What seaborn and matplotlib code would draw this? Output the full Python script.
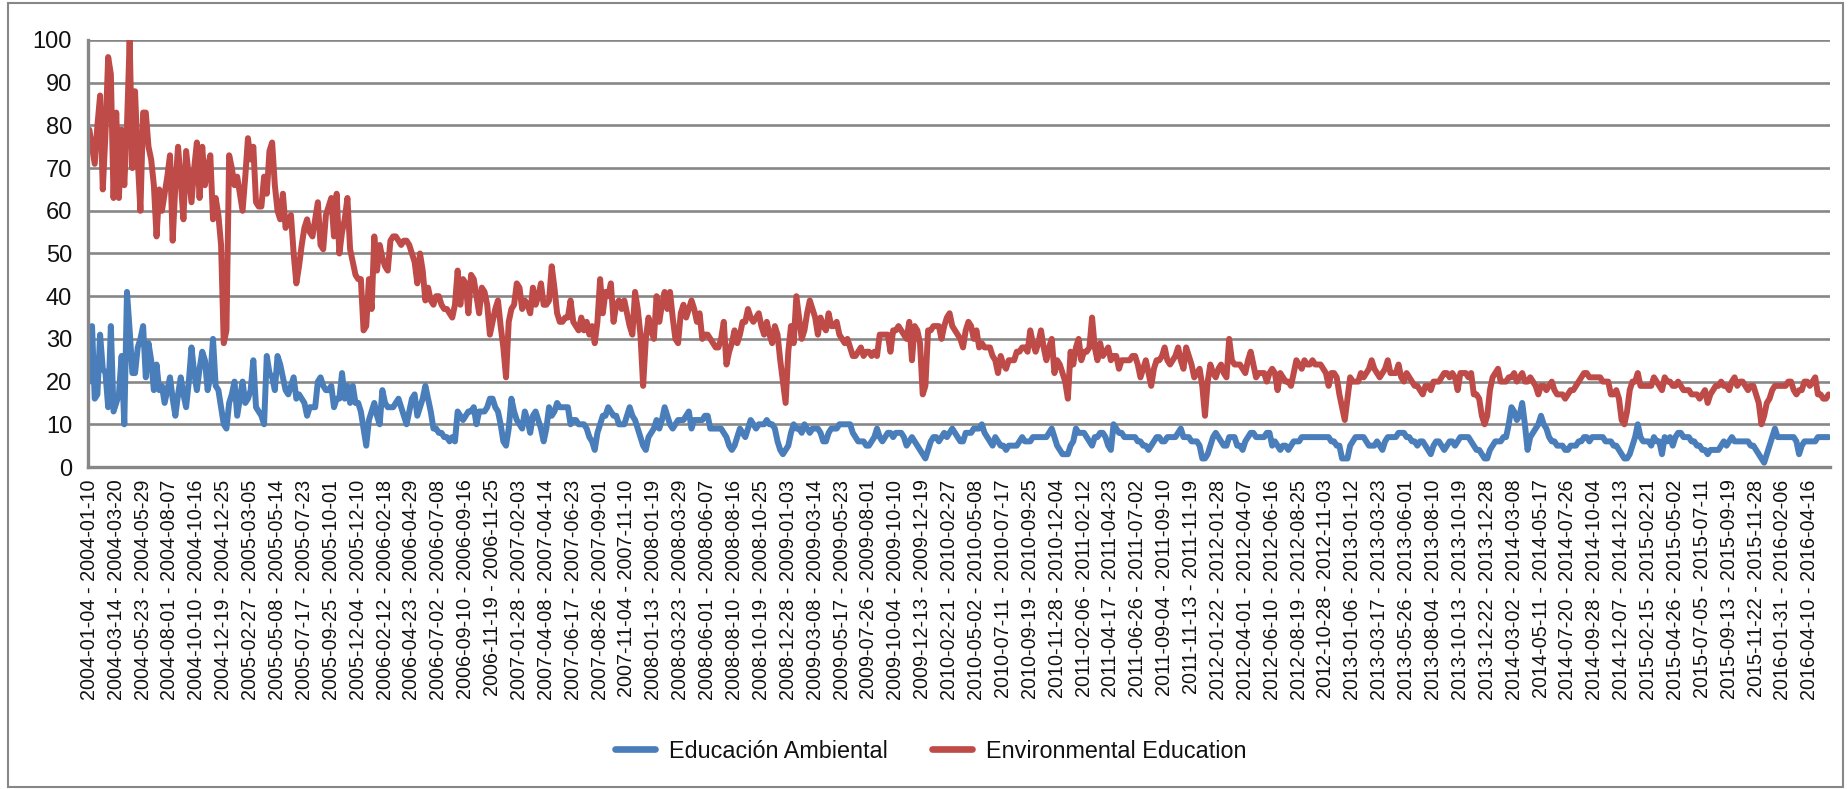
import numpy as np
import pandas as pd
import matplotlib
matplotlib.use("Agg")
import matplotlib.pyplot as plt
from matplotlib import font_manager
from matplotlib.lines import Line2D
from matplotlib.patches import Rectangle
import seaborn as sns

# ---------------- data (weekly Google-Trends style index) ----------------
start_week = "2004-01-04"
series_names = ["Educación Ambiental", "Environmental Education"]

educacion_ambiental = [
    20, 33, 16, 17, 31, 23, 22, 14, 33, 13,
    15, 17, 26, 10, 41, 32, 22, 22, 28, 30,
    33, 21, 29, 25, 18, 24, 18, 19, 15, 18,
    21, 16, 12, 17, 21, 17, 14, 20, 28, 22,
    18, 23, 27, 25, 18, 21, 30, 19, 18, 14,
    10, 9, 15, 17, 20, 12, 16, 20, 15, 16,
    18, 25, 14, 13, 12, 10, 26, 22, 21, 18,
    26, 24, 21, 18, 17, 19, 21, 16, 17, 16,
    15, 12, 14, 14, 14, 20, 21, 19, 18, 18,
    19, 14, 16, 16, 22, 16, 19, 15, 19, 15,
    15, 13, 9, 5, 11, 13, 15, 12, 10, 18,
    15, 14, 14, 14, 15, 16, 14, 12, 10, 13,
    16, 17, 12, 14, 16, 19, 16, 13, 9, 9,
    8, 8, 7, 7, 6, 7, 6, 13, 12, 11,
    12, 13, 13, 14, 10, 13, 13, 13, 14, 16,
    16, 14, 13, 10, 6, 5, 9, 16, 13, 11,
    10, 9, 13, 11, 8, 12, 13, 11, 9, 6,
    9, 14, 12, 13, 15, 14, 14, 14, 14, 10,
    11, 11, 10, 10, 10, 9, 7, 6, 4, 8,
    10, 12, 12, 14, 13, 12, 12, 10, 10, 10,
    12, 14, 12, 11, 9, 7, 5, 4, 7, 8,
    9, 11, 9, 11, 14, 12, 10, 9, 10, 11,
    11, 11, 12, 13, 9, 11, 11, 11, 11, 12,
    12, 9, 9, 9, 9, 9, 8, 7, 5, 4,
    5, 7, 9, 8, 7, 9, 11, 10, 9, 10,
    10, 10, 11, 10, 10, 9, 6, 4, 3, 4,
    5, 8, 10, 9, 9, 8, 10, 9, 8, 9,
    9, 9, 8, 6, 6, 8, 9, 9, 9, 10,
    10, 10, 10, 10, 8, 7, 6, 6, 6, 5,
    5, 6, 7, 9, 7, 6, 7, 8, 8, 7,
    8, 8, 8, 7, 5, 6, 7, 6, 5, 4,
    3, 2, 4, 6, 7, 7, 6, 7, 8, 7,
    8, 9, 8, 7, 6, 6, 8, 8, 8, 9,
    9, 9, 10, 8, 7, 6, 5, 7, 6, 5,
    5, 4, 5, 5, 5, 5, 6, 7, 6, 6,
    6, 7, 7, 7, 7, 7, 7, 8, 9, 7,
    5, 4, 3, 3, 3, 5, 6, 9, 8, 8,
    8, 7, 6, 5, 7, 7, 8, 8, 7, 5,
    4, 10, 9, 8, 8, 7, 7, 7, 7, 7,
    6, 6, 5, 5, 4, 5, 6, 7, 7, 6,
    6, 7, 7, 7, 7, 8, 9, 7, 7, 7,
    6, 6, 6, 5, 2, 2, 3, 5, 7, 8,
    7, 6, 5, 5, 7, 7, 7, 5, 5, 4,
    6, 7, 8, 8, 7, 7, 7, 7, 8, 8,
    5, 6, 5, 4, 5, 5, 4, 5, 6, 6,
    6, 7, 7, 7, 7, 7, 7, 7, 7, 7,
    7, 7, 6, 6, 5, 5, 2, 2, 2, 5,
    6, 7, 7, 7, 7, 6, 5, 5, 5, 6,
    5, 4, 6, 7, 7, 7, 7, 8, 8, 8,
    7, 7, 6, 6, 5, 6, 6, 5, 4, 3,
    5, 6, 6, 5, 4, 5, 6, 6, 5, 6,
    7, 7, 7, 7, 6, 5, 4, 4, 3, 2,
    2, 4, 5, 6, 6, 6, 7, 7, 10, 14,
    13, 11, 12, 15, 10, 4, 7, 8, 9, 10,
    12, 10, 9, 7, 6, 6, 5, 5, 5, 4,
    4, 5, 5, 5, 6, 6, 7, 7, 6, 7,
    7, 7, 7, 7, 6, 6, 6, 5, 5, 4,
    3, 2, 2, 3, 5, 7, 10, 7, 6, 6,
    6, 5, 7, 6, 6, 3, 7, 6, 7, 5,
    7, 8, 8, 7, 7, 7, 6, 6, 5, 5,
    4, 4, 3, 4, 4, 4, 4, 5, 6, 5,
    6, 7, 6, 6, 6, 6, 6, 6, 5, 5,
    4, 3, 2, 1, 3, 5, 7, 9, 7, 7,
    7, 7, 7, 7, 7, 6, 3, 5, 6, 6,
    6, 6, 6, 7, 7, 7, 7, 7,
]

environmental_education = [
    79, 75, 71, 80, 87, 65, 78, 96, 92, 63,
    83, 63, 79, 66, 80, 100, 70, 88, 72, 60,
    83, 83, 75, 72, 66, 54, 65, 60, 64, 68,
    73, 53, 66, 75, 67, 58, 74, 68, 62, 70,
    76, 63, 75, 66, 70, 73, 58, 63, 59, 52,
    29, 32, 73, 70, 66, 68, 64, 60, 68, 77,
    72, 75, 62, 61, 61, 68, 64, 74, 76, 66,
    60, 58, 64, 56, 58, 59, 50, 43, 47, 52,
    56, 58, 55, 54, 58, 62, 52, 51, 59, 61,
    63, 54, 64, 50, 55, 58, 63, 51, 48, 45,
    44, 44, 32, 33, 44, 37, 54, 46, 52, 49,
    47, 46, 53, 54, 54, 53, 52, 53, 53, 52,
    50, 48, 43, 50, 46, 39, 42, 39, 38, 40,
    40, 38, 37, 37, 36, 35, 38, 46, 38, 44,
    43, 36, 45, 44, 40, 36, 42, 41, 38, 31,
    34, 37, 39, 33, 28, 21, 34, 37, 38, 43,
    42, 37, 39, 38, 36, 42, 38, 40, 43, 38,
    38, 39, 47, 42, 36, 34, 34, 35, 35, 39,
    34, 33, 32, 35, 32, 34, 31, 33, 29, 34,
    44, 36, 41, 40, 43, 34, 38, 39, 37, 39,
    36, 33, 31, 41, 37, 31, 19, 30, 35, 32,
    30, 40, 34, 38, 41, 37, 41, 35, 30, 29,
    36, 38, 35, 37, 39, 37, 34, 36, 30, 31,
    31, 30, 29, 28, 28, 30, 34, 24, 27, 29,
    32, 29, 31, 34, 34, 37, 35, 34, 35, 36,
    33, 31, 34, 31, 29, 33, 31, 25, 20, 15,
    27, 33, 29, 40, 35, 30, 32, 36, 39, 37,
    35, 31, 35, 33, 32, 36, 33, 33, 34, 31,
    30, 29, 30, 28, 26, 26, 27, 28, 26, 27,
    27, 26, 27, 26, 31, 31, 31, 31, 27, 32,
    32, 33, 32, 31, 30, 34, 25, 33, 32, 29,
    17, 19, 32, 32, 33, 33, 33, 30, 33, 35,
    36, 33, 32, 31, 30, 28, 32, 34, 33, 30,
    32, 28, 29, 28, 28, 28, 26, 25, 22, 26,
    24, 23, 25, 25, 25, 27, 27, 28, 28, 27,
    32, 29, 27, 29, 32, 28, 25, 28, 30, 22,
    25, 24, 22, 20, 16, 27, 24, 28, 30, 25,
    27, 27, 28, 35, 28, 25, 29, 26, 27, 28,
    25, 26, 26, 23, 25, 25, 25, 25, 26, 26,
    24, 21, 23, 25, 22, 19, 23, 25, 25, 26,
    28, 25, 24, 25, 26, 28, 25, 23, 28, 26,
    24, 21, 22, 23, 19, 12, 20, 24, 22, 21,
    23, 24, 22, 21, 30, 25, 24, 24, 24, 23,
    22, 25, 27, 24, 21, 22, 22, 22, 20, 22,
    23, 22, 18, 22, 21, 20, 20, 19, 22, 25,
    24, 23, 25, 24, 24, 25, 24, 24, 24, 23,
    22, 19, 22, 22, 21, 17, 14, 11, 16, 21,
    20, 20, 20, 22, 21, 22, 23, 25, 23, 22,
    21, 22, 23, 25, 22, 22, 22, 24, 21, 20,
    22, 21, 20, 19, 19, 18, 17, 19, 19, 18,
    20, 20, 20, 21, 22, 22, 21, 22, 21, 18,
    22, 22, 22, 21, 22, 17, 17, 16, 12, 10,
    12, 18, 21, 22, 23, 20, 20, 20, 21, 21,
    22, 20, 21, 22, 20, 20, 21, 20, 19, 17,
    19, 19, 18, 19, 20, 18, 17, 17, 17, 16,
    17, 18, 18, 19, 20, 21, 22, 22, 21, 21,
    21, 21, 21, 20, 20, 20, 17, 17, 18, 16,
    11, 10, 13, 18, 20, 20, 22, 19, 19, 19,
    19, 19, 21, 20, 19, 18, 21, 20, 20, 19,
    19, 20, 19, 18, 18, 18, 17, 17, 17, 16,
    17, 18, 15, 17, 18, 19, 19, 20, 19, 19,
    18, 20, 21, 19, 20, 20, 19, 18, 19, 19,
    17, 15, 10, 12, 15, 16, 18, 19, 19, 19,
    19, 19, 20, 20, 18, 17, 18, 18, 20, 20,
    19, 20, 21, 17, 17, 16, 16, 17,
]

colors = {"Educación Ambiental": "#4A7EBB", "Environmental Education": "#BE4B48"}
label_every = 10
y_ticks = list(range(0, 101, 10))

# ---------------- build table ----------------
n = min(len(educacion_ambiental), len(environmental_education))
week_starts = pd.date_range(start_week, periods=n, freq="7D")
week_labels = [f"{d:%Y-%m-%d} - {(d + pd.Timedelta(days=6)):%Y-%m-%d}" for d in week_starts]
df = pd.DataFrame({
    "idx": np.tile(np.arange(n), 2),
    "value": educacion_ambiental[:n] + environmental_education[:n],
    "series": [series_names[0]] * n + [series_names[1]] * n,
})

# ---------------- style ----------------
sns.set_style("white")
plt.rcParams["font.family"] = ["Liberation Sans", "DejaVu Sans"]
GRID = "#878787"
TXT = "#111111"

fig = plt.figure(figsize=(18.49, 7.89), dpi=100)
ax = fig.add_axes([88 / 1849, 1 - 467 / 789, (1830 - 88) / 1849, (467 - 40) / 789])

sns.lineplot(data=df, x="idx", y="value", hue="series", palette=colors,
             hue_order=series_names, linewidth=4.3, ax=ax, legend=False)
for ln in ax.lines:
    ln.set_solid_capstyle("round")
    ln.set_solid_joinstyle("round")

ax.set_xlim(-0.5, n - 0.5)
ax.set_ylim(0, 100)
ax.set_yticks(y_ticks)
ax.set_yticklabels([str(v) for v in y_ticks], fontsize=17, color=TXT)
ax.set_xticks(np.arange(0, n, label_every))
ax.set_xticklabels(week_labels[::label_every], rotation=90, fontsize=14.2, color=TXT)
ax.set_xticks(np.arange(4.5, n, 5), minor=True)
ax.set_xlabel("")
ax.set_ylabel("")

ax.grid(axis="y", color=GRID, linewidth=1.9)
ax.grid(axis="x", visible=False)
ax.set_axisbelow(True)
for s in ["top", "right"]:
    ax.spines[s].set_visible(False)
for s in ["left", "bottom"]:
    ax.spines[s].set_color(GRID)
    ax.spines[s].set_linewidth(2.4)
ax.tick_params(axis="x", which="both", direction="out", length=4.5, width=1.6,
               color=GRID, pad=4.5)
ax.tick_params(axis="y", direction="out", length=6.5, width=1.6, color=GRID, pad=5)

# legend
names = {f.name for f in font_manager.fontManager.ttflist}
if "Liberation Sans Narrow" in names:
    leg_font = {"family": ["Liberation Sans Narrow", "DejaVu Sans"], "size": 19}
else:
    leg_font = {"family": ["Liberation Sans", "DejaVu Sans"], "size": 16.8}
handles = [Line2D([0], [0], color=colors[s], lw=4.8, solid_capstyle="round") for s in series_names]
fig.legend(handles, series_names, loc="center", bbox_to_anchor=(0.5035, 1 - 751 / 789),
           ncol=2, frameon=False, prop=leg_font, handlelength=1.7, handletextpad=0.6,
           columnspacing=1.9, labelcolor=TXT)

# chart border
fig.patches.append(Rectangle((8 / 1849, 2 / 789), (1843 - 8) / 1849, (786 - 2) / 789,
                             transform=fig.transFigure, fill=False, edgecolor=GRID,
                             linewidth=1.5))

fig.savefig("out.png", dpi=100)
